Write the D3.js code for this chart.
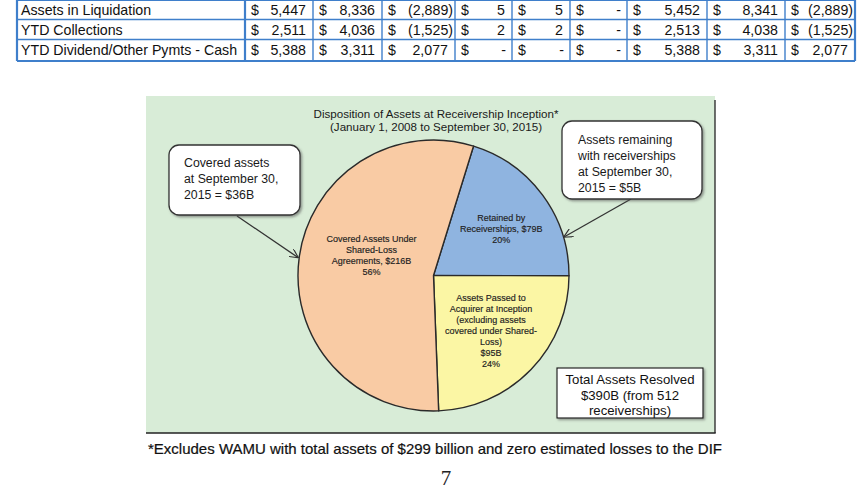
<!DOCTYPE html>
<html><head><meta charset="utf-8">
<script src="https://cdn.jsdelivr.net/npm/d3@7/dist/d3.min.js"></script>
<style>
html,body{margin:0;padding:0;background:#fff;}
svg{display:block;}
</style></head>
<body>
<svg id="c" width="866" height="491"></svg>
<script>
// ---------- DATA ----------
const rowLabels = ["Assets in Liquidation", "YTD Collections", "YTD Dividend/Other Pymts - Cash"];
const rowValues = [
  [5447, 8336, -2889, 5, 5, 0, 5452, 8341, -2889],
  [2511, 4036, -1525, 2, 2, 0, 2513, 4038, -1525],
  [5388, 3311, 2077, 0, 0, 0, 5388, 3311, 2077]
];
const sliceNames = ["Retained", "Passed", "Covered"];
const sliceValues = [79, 95, 216];
const sliceLabels = [
  ["Retained by", "Receiverships, $79B", "20%"],
  ["Assets Passed to", "Acquirer at Inception", "(excluding assets", "covered under Shared-", "Loss)", "$95B", "24%"],
  ["Covered Assets Under", "Shared-Loss", "Agreements, $216B", "56%"]
];
const chartTitle = ["Disposition of Assets at Receivership Inception*", "(January 1, 2008 to September 30, 2015)"];
const calloutLeft = ["Covered assets", "at September 30,", "2015 = $36B"];
const calloutRight = ["Assets remaining", "with receiverships", "at September 30,", "2015 = $5B"];
const totalText = ["Total Assets Resolved", "$390B (from 512", "receiverships)"];
const footnote = "*Excludes WAMU with total assets of $299 billion and zero estimated losses to the DIF";
const pageNumber = "7";

// ---------- LAYOUT ----------
const svg = d3.select("#c");
const SANS = "'Liberation Sans', Arial, sans-serif";
const blue = "#3f7fcb";

// Table
const colEdges = [17, 245, 313, 382, 455, 512, 570, 627, 707, 785, 855];
const rowEdges = [0, 19.5, 39.5, 61];
const tbl = svg.append("g");
const fmt = d3.format(",");
rowLabels.forEach((lab, i) => {
  const y0 = rowEdges[i], y1 = rowEdges[i + 1], ym = (y0 + y1) / 2;
  tbl.append("text").attr("x", colEdges[0] + 4).attr("y", ym + 5)
    .attr("font-family", SANS).attr("font-size", 14.2).attr("fill", "#111").text(lab);
  rowValues[i].forEach((v, j) => {
    const x0 = colEdges[j + 1], x1 = colEdges[j + 2];
    tbl.append("text").attr("x", x0 + 6).attr("y", ym + 5)
      .attr("font-family", SANS).attr("font-size", 14.2).attr("fill", "#111").text("$");
    let s, pad;
    if (v === 0) { s = "-"; pad = 6; }
    else if (v < 0) { s = "(" + fmt(-v) + ")"; pad = 2; }
    else { s = fmt(v); pad = 7; }
    tbl.append("text").attr("x", x1 - pad).attr("y", ym + 5).attr("text-anchor", "end")
      .attr("font-family", SANS).attr("font-size", 14.2).attr("fill", "#111").text(s);
  });
});
// grid lines
rowEdges.forEach((y, i) => {
  tbl.append("line").attr("x1", colEdges[0]).attr("x2", colEdges[colEdges.length - 1])
    .attr("y1", y).attr("y2", y).attr("stroke", blue)
    .attr("stroke-width", (i === 0 || i === rowEdges.length - 1) ? 2.2 : 1.4);
});
colEdges.forEach((x, i) => {
  tbl.append("line").attr("x1", x).attr("x2", x).attr("y1", rowEdges[0]).attr("y2", rowEdges[rowEdges.length - 1])
    .attr("stroke", blue).attr("stroke-width", (i === 0 || i === colEdges.length - 1 || i === 1) ? 2.2 : 1.4);
});

// Chart panel
const panel = {x: 146, y: 96, w: 569, h: 337};
svg.append("rect").attr("x", panel.x).attr("y", panel.y).attr("width", panel.w).attr("height", panel.h)
  .attr("fill", "#d8ecd7");
svg.append("line").attr("x1", panel.x + panel.w).attr("x2", panel.x + panel.w)
  .attr("y1", panel.y + 4).attr("y2", panel.y + panel.h).attr("stroke", "#333").attr("stroke-width", 1.4);
svg.append("line").attr("x1", panel.x).attr("x2", panel.x + panel.w + 0.7)
  .attr("y1", panel.y + panel.h).attr("y2", panel.y + panel.h).attr("stroke", "#222").attr("stroke-width", 1.6);

// Title
chartTitle.forEach((t, i) => {
  svg.append("text").attr("x", 436).attr("y", 118 + i * 13).attr("text-anchor", "middle")
    .attr("font-family", SANS).attr("font-size", 11.6).attr("fill", "#1a1a1a").text(t);
});

// Pie
const cx = 433.5, cy = 275.5, R = 135.5;
const start = 17.2 * Math.PI / 180;
const pie = d3.pie().sort(null).startAngle(start).endAngle(start + 2 * Math.PI);
const arcs = pie(sliceValues);
const colors = d3.scaleOrdinal().domain(sliceNames).range(["#8fb4e0", "#fbf6a4", "#f9cba4"]);
const arc = d3.arc().innerRadius(0).outerRadius(R);
const pg = svg.append("g").attr("transform", `translate(${cx},${cy})`);
pg.selectAll("path").data(arcs).join("path")
  .attr("d", arc).attr("fill", (d, i) => colors(sliceNames[i]))
  .attr("stroke", "#2a2a2a").attr("stroke-width", 1.4).attr("stroke-linejoin", "round");

// slice labels (centroid of a label arc, nudged per slice)
const labelR = [82, 80, 65];
const labelDa = [2, 0, 10]; // degrees
arcs.forEach((d, i) => {
  const a = (d.startAngle + d.endAngle) / 2 + labelDa[i] * Math.PI / 180;
  const lx = Math.sin(a) * labelR[i], ly = -Math.cos(a) * labelR[i];
  const lines = sliceLabels[i];
  const lh = 11;
  const top = ly - (lines.length - 1) * lh / 2;
  lines.forEach((t, k) => {
    pg.append("text").attr("x", lx).attr("y", top + k * lh + 3)
      .attr("text-anchor", "middle").attr("font-family", SANS).attr("font-size", 9)
      .attr("fill", "#222").attr("stroke", "#222").attr("stroke-width", 0.15).text(t);
  });
});

// Arrow marker
const defs = svg.append("defs");
defs.append("marker").attr("id", "ah").attr("viewBox", "0 0 10 10").attr("refX", 9.5).attr("refY", 5)
  .attr("markerWidth", 9).attr("markerHeight", 9).attr("orient", "auto").attr("markerUnits", "userSpaceOnUse")
  .append("path").attr("d", "M0,0 L10,5 L0,10").attr("fill", "none").attr("stroke", "#333").attr("stroke-width", 1.3);
defs.append("filter").attr("id", "sh").attr("x", "-10%").attr("y", "-10%").attr("width", "130%").attr("height", "140%")
  .append("feDropShadow").attr("dx", 1.5).attr("dy", 1.5).attr("stdDeviation", 0.8).attr("flood-color", "#555").attr("flood-opacity", 0.6);

function callout(x, y, w, h, lines, tx, ty, lh, fs) {
  svg.append("rect").attr("x", x).attr("y", y).attr("width", w).attr("height", h).attr("rx", 10)
    .attr("fill", "#fff").attr("stroke", "#333").attr("stroke-width", 1.3).attr("filter", "url(#sh)");
  lines.forEach((t, k) => {
    svg.append("text").attr("x", tx).attr("y", ty + k * lh).attr("font-family", SANS)
      .attr("font-size", fs).attr("fill", "#1a1a1a").text(t);
  });
}
// arrows
svg.append("line").attr("x1", 237).attr("y1", 216).attr("x2", 298).attr("y2", 257.5)
  .attr("stroke", "#333").attr("stroke-width", 1.3).attr("marker-end", "url(#ah)");
svg.append("line").attr("x1", 631).attr("y1", 199).attr("x2", 564).attr("y2", 237)
  .attr("stroke", "#333").attr("stroke-width", 1.3).attr("marker-end", "url(#ah)");

callout(169, 145, 131, 70, calloutLeft, 184, 167, 16, 12.3);
callout(562, 121, 140, 78, calloutRight, 578, 144, 16, 12.3);

// Total box
svg.append("rect").attr("x", 557).attr("y", 368).attr("width", 146).attr("height", 50)
  .attr("fill", "#fff").attr("stroke", "#111").attr("stroke-width", 1.1).attr("filter", "url(#sh)");
totalText.forEach((t, k) => {
  svg.append("text").attr("x", 630).attr("y", 384 + k * 15.5).attr("text-anchor", "middle")
    .attr("font-family", SANS).attr("font-size", 13.2).attr("fill", "#111").text(t);
});

// Footnote and page number
svg.append("text").attr("x", 435).attr("y", 454).attr("text-anchor", "middle")
  .attr("font-family", SANS).attr("font-size", 14.6).attr("fill", "#111").attr("stroke", "#111").attr("stroke-width", 0.2)
  .attr("textLength", 574).attr("lengthAdjust", "spacingAndGlyphs")
  .text(footnote);
svg.append("text").attr("x", 446).attr("y", 485).attr("text-anchor", "middle")
  .attr("font-family", "'Liberation Serif', 'Times New Roman', serif").attr("font-size", 21).attr("fill", "#222")
  .text(pageNumber);
</script>
</body></html>
